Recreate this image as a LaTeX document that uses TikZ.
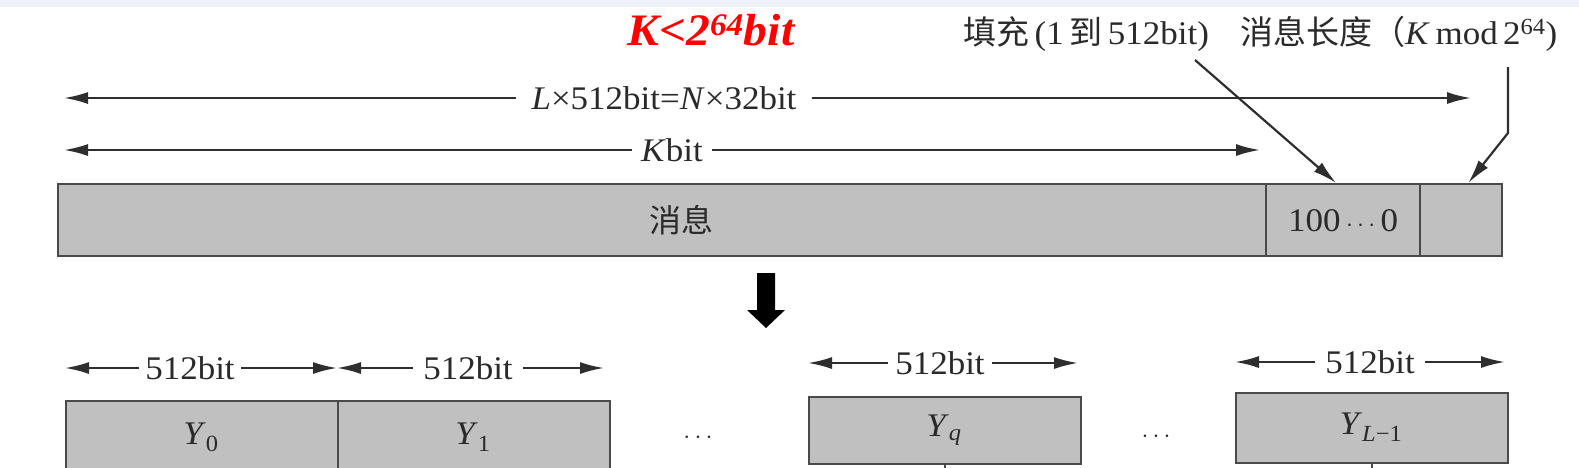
\documentclass[tikz,border=0pt]{standalone}
\usepackage{fontspec}
\setmainfont{Liberation Serif}[FakeStretch=1.06]
\newfontfamily\cjk{Noto Sans CJK SC}
\usetikzlibrary{arrows.meta,calc}
\definecolor{ln}{HTML}{2E2E2E}
\definecolor{bx}{HTML}{C0C0C0}
\definecolor{bd}{HTML}{4A4A4A}
\definecolor{strip}{HTML}{EEF2F8}
\definecolor{tx}{HTML}{2A2A2A}
\begin{document}
\begin{tikzpicture}[x=1pt,y=-1pt,
  dim/.style={draw=ln, line width=2.2pt, -{Latex[length=24pt,width=12pt]}},
  lbl/.style={font=\fontsize{33}{35}\selectfont, text=tx, inner sep=0pt},
  dlbl/.style={lbl, inner xsep=12pt},
  cell/.style={draw=bd, fill=bx, line width=2.4pt, inner sep=0pt, anchor=north west},
  thick arrow/.style={fill=black}
]
\useasboundingbox (0,0) rectangle (1579,467);
\clip (0,0) rectangle (1579,467);
\fill[strip] (0,0) rectangle (1579,7);

% red condition
\node[anchor=base west, inner sep=0pt, text=red, font=\fontsize{45}{50}\selectfont\bfseries\itshape] (cond) at (627,45) {K<2\textsuperscript{64}bit};

% top labels
\node[lbl, anchor=base west] (padl) at (963,44) {{\cjk 填充}\,(1\,{\cjk 到}\,512bit)};
\node[lbl, anchor=base west] (lenl) at (1240,44) {{\cjk 消息长度（}\textit{K}\,mod\,2\textsuperscript{64})};

% main bar
\node[cell, minimum width=1208pt, minimum height=72pt] (msg) at (57,183) {};
\node[cell, minimum width=154pt, minimum height=72pt] (pad) at (1265,183) {};
\node[cell, minimum width=82pt, minimum height=72pt] (len) at (1419,183) {};
\node[lbl, font=\cjk\fontsize{32}{34}\selectfont] (msgt) at (681,220) {消息};
\node[lbl] (padt) at (pad.center) {100\,$\cdots$\,0};

% dimension arrows
\node[dlbl, inner xsep=15pt] (lt) at (664,98) {\textit{L}×512bit=\textit{N}×32bit};
\coordinate (la) at (64,98);
\coordinate (lb) at (1471,98);
\draw[dim] (lt.west) -- (la);
\draw[dim] (lt.east) -- (lb);

\node[dlbl, inner xsep=9pt] (kt) at (672,150) {\textit{K}bit};
\coordinate (ka) at (64,150);
\coordinate (kb) at (1260,150);
\draw[dim] (kt.west) -- (ka);
\draw[dim] (kt.east) -- (kb);

% pointers
\coordinate (p1) at (1195,60);
\draw[dim] (p1) -- ([xshift=-7pt]pad.north);
\coordinate (p2) at (1508,67);
\coordinate (p2b) at (1508,133);
\draw[dim] (p2) -- (p2b) -- ([xshift=7pt]len.north);

% thick down arrow
\fill[thick arrow] (757,273) -- (775,273) -- (775,310) -- (785,310) -- (766,328) -- (747,310) -- (757,310) -- cycle;

% blocks
\node[cell, minimum width=272pt, minimum height=90pt] (y0) at (65,400) {};
\node[cell, minimum width=272pt, minimum height=90pt] (y1) at (337,400) {};
\node[cell, minimum width=272pt, minimum height=67pt] (yq) at (808,396) {};
\node[cell, minimum width=272pt, minimum height=70pt] (yl) at (1235,392) {};
\node[lbl] (y0t) at (201,437) {\textit{Y}\textsubscript{0}};
\node[lbl] (y1t) at (473,437) {\textit{Y}\textsubscript{1}};
\node[lbl] (yqt) at (944,430) {\textit{Y}\textsubscript{\textit{q}}};
\node[lbl] (ylt) at (1371,427) {\textit{Y}\textsubscript{\textit{L}−1}};
\draw[bd, line width=2pt] (yq.south) -- ++(0,8);
\draw[bd, line width=2pt] (yl.south) -- ++(0,8);

\node[lbl] (d1) at (698,438) {$\cdots$};
\node[lbl] (d2) at (1156,437) {$\cdots$};

% 512bit arrows
\node[dlbl, inner xsep=6pt] (b1) at (190,368) {512bit};
\coordinate (b1l) at (65,368); \coordinate (b1r) at (337,368);
\draw[dim] (b1.west) -- (b1l); \draw[dim] (b1.east) -- (b1r);
\node[dlbl, inner xsep=10pt] (b2) at (468,368) {512bit};
\coordinate (b2l) at (337,368); \coordinate (b2r) at (604,368);
\draw[dim] (b2.west) -- (b2l); \draw[dim] (b2.east) -- (b2r);
\node[dlbl, inner xsep=7pt] (b3) at (940,363) {512bit};
\coordinate (b3l) at (808,363); \coordinate (b3r) at (1078,363);
\draw[dim] (b3.west) -- (b3l); \draw[dim] (b3.east) -- (b3r);
\node[dlbl, inner xsep=10pt] (b4) at (1370,362) {512bit};
\coordinate (b4l) at (1235,362); \coordinate (b4r) at (1505,362);
\draw[dim] (b4.west) -- (b4l); \draw[dim] (b4.east) -- (b4r);
\end{tikzpicture}
\end{document}
